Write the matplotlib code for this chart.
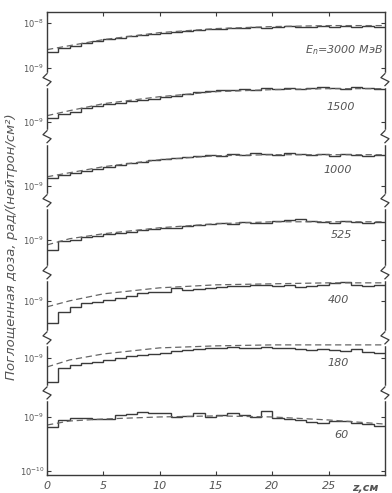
import numpy as np
import matplotlib
matplotlib.use("Agg")
from matplotlib import pyplot as plt

# depth bins, cm
edges = np.arange(0, 31, 1)
z_dash = [0, 2, 5, 10, 15, 20, 25, 30]

energies = ["3000", "1500", "1000", "525", "400", "180", "60"]

# absorbed dose per bin, units of 10^-9 rad/(neutron/cm^2)
dose_3000 = [2.09, 2.51, 2.75, 3.16, 3.47, 3.80, 3.98, 4.37, 4.57, 4.79,
             5.01, 5.25, 5.50, 5.75, 6.03, 6.03, 6.31, 6.31, 6.61, 6.31,
             6.61, 6.92, 6.61, 6.61, 6.92, 6.61, 6.92, 6.61, 6.92, 6.61]
dose_1500 = [1.20, 1.45, 1.58, 1.91, 2.09, 2.29, 2.40, 2.63, 2.75, 2.88,
             3.16, 3.31, 3.63, 3.98, 4.17, 4.37, 4.37, 4.57, 4.37, 4.79,
             4.57, 4.79, 4.57, 4.79, 5.01, 4.79, 4.57, 5.01, 4.79, 4.57]
dose_1000 = [1.45, 1.66, 1.82, 2.00, 2.19, 2.40, 2.63, 2.88, 3.02, 3.31,
             3.47, 3.63, 3.80, 3.98, 4.17, 3.98, 4.37, 4.17, 4.57, 4.37,
             4.17, 4.57, 4.37, 4.17, 4.37, 3.98, 4.37, 4.17, 3.98, 4.17]
dose_525 = [0.63, 0.955, 1.00, 1.15, 1.20, 1.32, 1.38, 1.45, 1.58, 1.66,
            1.74, 1.74, 1.91, 2.00, 2.09, 2.19, 2.09, 2.29, 2.19, 2.19,
            2.40, 2.51, 2.63, 2.40, 2.29, 2.19, 2.40, 2.29, 2.19, 2.29]
dose_400 = [0.363, 0.603, 0.759, 0.912, 0.955, 1.047, 1.148, 1.259, 1.445, 1.514,
            1.514, 1.820, 1.660, 1.738, 1.820, 1.905, 1.995, 1.995, 2.089, 2.089,
            1.995, 2.089, 1.905, 1.995, 2.089, 2.291, 2.399, 2.089, 1.995, 2.089]
dose_180 = [0.331, 0.631, 0.724, 0.794, 0.832, 0.912, 1.000, 1.096, 1.148, 1.202,
            1.259, 1.380, 1.445, 1.514, 1.585, 1.585, 1.660, 1.585, 1.585, 1.660,
            1.585, 1.585, 1.514, 1.445, 1.514, 1.445, 1.380, 1.514, 1.318, 1.259]
dose_60 = [0.631, 0.871, 0.955, 0.955, 0.912, 0.912, 1.096, 1.148, 1.259, 1.202,
           1.202, 1.000, 1.047, 1.202, 1.000, 1.096, 1.202, 1.096, 1.000, 1.318,
           0.955, 0.912, 0.871, 0.794, 0.759, 0.832, 0.832, 0.759, 0.724, 0.661]

# calculated curves (dashed)
calc_3000 = [2.29, 2.75, 3.63, 5.01, 6.03, 6.61, 6.92, 6.92]
calc_1500 = [1.32, 1.66, 2.29, 3.16, 3.98, 4.37, 4.57, 4.57]
calc_1000 = [1.51, 1.82, 2.40, 3.31, 3.98, 4.17, 4.17, 4.17]
calc_525 = [0.79, 1.05, 1.32, 1.74, 2.09, 2.29, 2.29, 2.29]
calc_400 = [0.76, 1.00, 1.38, 1.82, 2.09, 2.19, 2.29, 2.29]
calc_180 = [0.66, 0.91, 1.20, 1.585, 1.74, 1.82, 1.82, 1.82]
calc_60 = [0.69, 0.83, 0.91, 1.00, 1.05, 1.00, 0.87, 0.72]

measured = [dose_3000, dose_1500, dose_1000, dose_525, dose_400, dose_180, dose_60]
calculated = [calc_3000, calc_1500, calc_1000, calc_525, calc_400, calc_180, calc_60]

# vertical offset of each panel (in decades) on the stacked axis
shift = [8.14, 7.06, 5.78, 4.70, 3.48, 2.34, 1.16]
breaks = [7.90, 6.76, 5.48, 4.04, 2.74, 1.64]

ink = "#3a3a3a"
txt = "#555555"

fig = plt.figure(figsize=(3.92, 4.93), dpi=100)
ax = fig.add_axes([0.12, 0.0365, 0.862, 0.94])

for i in range(len(energies)):
    y = np.log10(measured[i]) + shift[i]
    ax.stairs(y, edges, color=ink, lw=1.0, baseline=None)
    yc = np.log10(calculated[i]) + shift[i]
    ax.plot(z_dash, yc, color="#666666", lw=0.9, ls=(0, (5, 3)))

ax.set_xlim(0, 30)
ax.set_ylim(0.0, 9.26)

ax.set_xticks([0, 5, 10, 15, 20, 25])
ax.set_xticklabels(["0", "5", "10", "15", "20", "25"], fontstyle="italic",
                   color=txt, fontsize=8)
ax.text(28.3, -0.15, "z,см", ha="center", va="top", fontstyle="italic",
        color=txt, fontsize=8, fontweight="bold")

yt = [shift[0] + 0.9] + shift + [shift[-1] - 1.08]
ylab = ["$10^{-8}$"] + ["$10^{-9}$"] * len(shift) + ["$10^{-10}$"]
ax.set_yticks(yt)
ax.set_yticklabels(ylab, fontstyle="italic", color=txt, fontsize=6)
ax.tick_params(direction="in", top=True, right=True, length=3, color=ink, pad=2)
ax.tick_params(axis="x", pad=4)

for s in ax.spines.values():
    s.set_color(ink)
    s.set_linewidth(1.0)

# axis breaks on both vertical spines
tr = ax.get_yaxis_transform()
for b in breaks:
    for x0 in (0.0, 1.0):
        ax.plot([x0, x0], [b - 0.12, b + 0.12], color="white", lw=2.5,
                transform=tr, clip_on=False, zorder=4)
        ax.plot([x0, x0 + 0.012, x0 - 0.012, x0],
                [b - 0.12, b - 0.04, b + 0.04, b + 0.12],
                color=ink, lw=0.9, transform=tr, clip_on=False, zorder=5)

labels = ["$E_n$=3000 МэВ", "1500", "1000", "525", "400", "180", "60"]
lab_x = [29.8, 27.3, 27.1, 27.1, 26.8, 26.8, 26.8]
lab_y = [8.50, 7.36, 6.10, 4.80, 3.50, 2.24, 0.80]
for i, lab in enumerate(labels):
    ax.text(lab_x[i], lab_y[i], lab, ha="right", va="center",
            fontstyle="italic", color=txt, fontsize=8)

fig.text(0.03, 0.50, "Поглощенная доза, рад/(нейтрон/см²)", rotation=90,
         ha="center", va="center", fontstyle="italic", color=txt, fontsize=9.5)

fig.savefig("out.png", dpi=100, facecolor="white")
